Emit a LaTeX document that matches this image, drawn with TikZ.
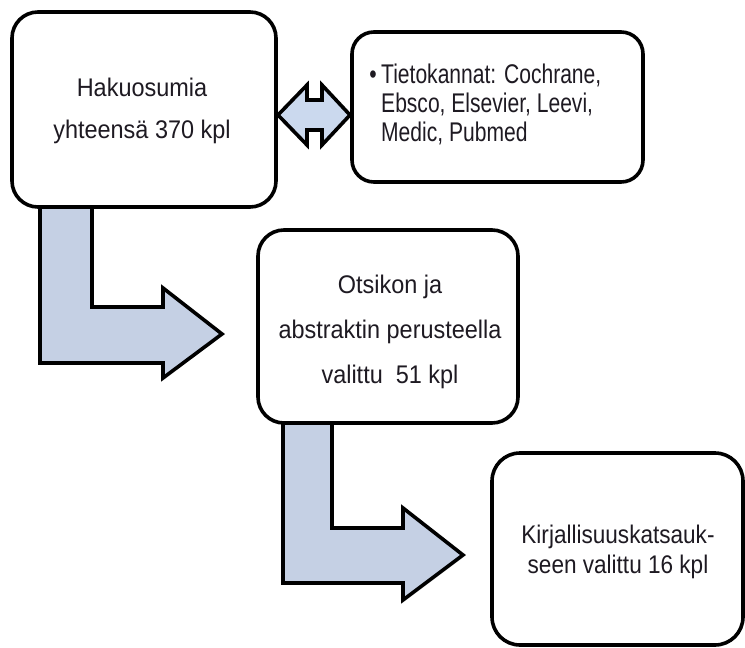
\documentclass[tikz,border=0pt]{standalone}
\usepackage{fontspec}
\setmainfont{Liberation Sans}
\newfontfamily\narrowsans[FakeStretch=0.78]{Liberation Sans}
\newfontfamily\boxsans[FakeStretch=0.92]{Liberation Sans}
\newfontfamily\tightsans[FakeStretch=0.885]{Liberation Sans}
\definecolor{arrowfill}{RGB}{197,208,228}
\definecolor{dblfill}{RGB}{203,217,238}
\definecolor{ink}{RGB}{30,26,34}
\begin{document}
\begin{tikzpicture}[x=1pt,y=-1pt,
  box/.style={draw=black, line width=3.6pt, rounded corners=26pt, fill=white,
              rectangle, inner sep=0pt},
  blockarrow/.style={draw=black, line width=3.6pt, fill=arrowfill, line join=miter},
  txt/.style={text=ink, align=center, inner sep=0pt}]
\useasboundingbox (0,0) rectangle (745,648);

% block arrows (drawn first, boxes cover their ends)
\draw[blockarrow] (40,200) -- (92,200) -- (92,307) -- (163,307) -- (163,288)
  -- (222,334) -- (163,378) -- (163,363) -- (40,363) -- cycle;
\draw[blockarrow] (283,416) -- (332,416) -- (332,528) -- (403,528) -- (403,508)
  -- (463,555) -- (403,600) -- (403,583) -- (283,583) -- cycle;

% boxes
\node[box, minimum width=264pt, minimum height=195pt] (b1) at (144,109.5) {};
\node[box, rounded corners=22pt, minimum width=291pt, minimum height=150pt] (b2) at (497.5,107) {};
\node[box, minimum width=260pt, minimum height=193pt] (b3) at (388,326.5) {};
\node[box, rounded corners=28pt, minimum width=251pt, minimum height=192pt] (b4) at (617.5,549) {};

% double arrow between the first two boxes
\draw[blockarrow, fill=dblfill] (278,115) -- (307,85) -- (307,100) -- (322,100) -- (322,85)
  -- (350,115) -- (322,145) -- (322,130) -- (307,130) -- (307,145) -- cycle;

% texts
\node[txt, font={\boxsans\fontsize{25.5}{42}\selectfont}] (t1) at (142,111)
  {Hakuosumia\\yhteensä 370 kpl};
\node[txt, anchor=west, align=left, font={\narrowsans\fontsize{27}{29}\selectfont}] (t2) at (381,104)
  {\llap{\textbullet\,}Tietokannat: Cochrane,\\Ebsco, Elsevier, Leevi,\\Medic, Pubmed};
\node[txt, font={\boxsans\fontsize{25.5}{45}\selectfont}] (t3) at (390,331.5)
  {Otsikon ja\\abstraktin perusteella\\valittu\ \ 51 kpl};
\node[txt, font={\tightsans\fontsize{25.5}{30}\selectfont}] (t4) at (618,551.5)
  {Kirjallisuuskatsauk-\\seen valittu 16 kpl};
\end{tikzpicture}
\end{document}
